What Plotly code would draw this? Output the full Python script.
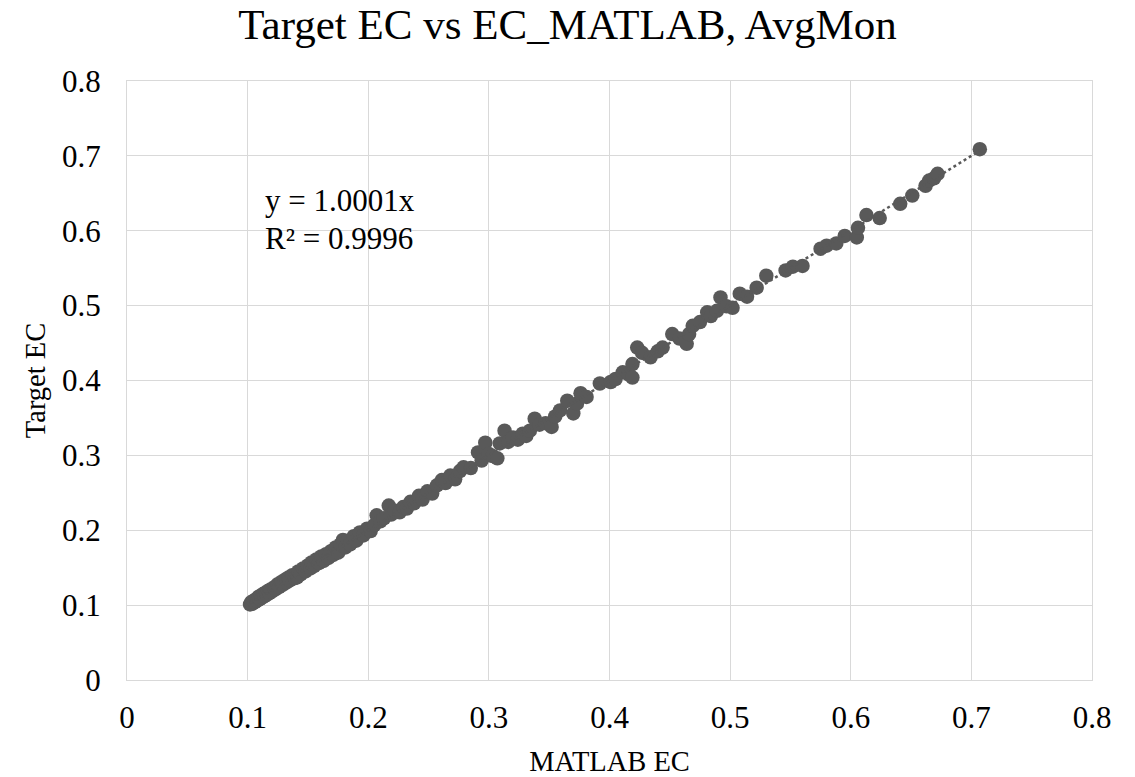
import plotly.graph_objects as go

# MATLAB EC (x) and Target EC (y) values
matlab_ec = [
    0.102, 0.103, 0.104, 0.105, 0.106, 0.107, 0.108, 0.109, 0.110, 0.111,
    0.112, 0.113, 0.114, 0.115, 0.116, 0.117, 0.118, 0.119, 0.120, 0.122,
    0.123, 0.125, 0.126, 0.128, 0.129, 0.131, 0.132, 0.134, 0.135, 0.137,
    0.139, 0.141, 0.142, 0.144, 0.146, 0.148, 0.150, 0.152, 0.153, 0.155,
    0.157, 0.159, 0.161, 0.163, 0.165, 0.167, 0.169, 0.171, 0.173, 0.175,
    0.177, 0.179, 0.181, 0.183, 0.185, 0.188, 0.190, 0.193, 0.196, 0.199,
    0.202, 0.205, 0.207, 0.210, 0.213, 0.217, 0.219, 0.222, 0.226, 0.229,
    0.232, 0.235, 0.238, 0.242, 0.245, 0.249, 0.253, 0.257, 0.261, 0.264,
    0.268, 0.272, 0.276, 0.279, 0.285, 0.291, 0.294, 0.297, 0.300, 0.303,
    0.307, 0.309, 0.313, 0.316, 0.320, 0.324, 0.328, 0.331, 0.334, 0.338,
    0.342, 0.347, 0.352, 0.355, 0.359, 0.365, 0.370, 0.373, 0.376, 0.381,
    0.392, 0.401, 0.405, 0.411, 0.416, 0.419, 0.419, 0.423, 0.427, 0.434,
    0.440, 0.444, 0.452, 0.458, 0.464, 0.466, 0.469, 0.475, 0.481, 0.484,
    0.492, 0.489, 0.497, 0.502, 0.508, 0.514, 0.522, 0.530, 0.546, 0.552,
    0.560, 0.575, 0.580, 0.588, 0.595, 0.605, 0.606, 0.613, 0.624, 0.641,
    0.651, 0.662, 0.665, 0.669, 0.672, 0.707,
]
target_ec = [
    0.101, 0.104, 0.102, 0.106, 0.104, 0.108, 0.106, 0.111, 0.108, 0.113,
    0.110, 0.115, 0.112, 0.117, 0.114, 0.119, 0.116, 0.121, 0.118, 0.124,
    0.121, 0.128, 0.124, 0.131, 0.127, 0.134, 0.130, 0.137, 0.133, 0.140,
    0.136, 0.137, 0.145, 0.141, 0.149, 0.145, 0.153, 0.149, 0.157, 0.152,
    0.161, 0.156, 0.165, 0.159, 0.168, 0.163, 0.172, 0.167, 0.177, 0.170,
    0.181, 0.187, 0.177, 0.186, 0.181, 0.192, 0.186, 0.197, 0.193, 0.202,
    0.199, 0.207, 0.220, 0.212, 0.216, 0.233, 0.221, 0.226, 0.224, 0.231,
    0.229, 0.238, 0.236, 0.246, 0.241, 0.252, 0.249, 0.260, 0.267, 0.263,
    0.273, 0.268, 0.279, 0.284, 0.283, 0.304, 0.293, 0.317, 0.302, 0.299,
    0.296, 0.316, 0.333, 0.318, 0.324, 0.321, 0.329, 0.326, 0.333, 0.349,
    0.341, 0.343, 0.338, 0.352, 0.360, 0.373, 0.356, 0.369, 0.383, 0.378,
    0.396, 0.398, 0.402, 0.411, 0.408, 0.422, 0.404, 0.444, 0.437, 0.431,
    0.439, 0.444, 0.462, 0.456, 0.449, 0.462, 0.473, 0.478, 0.491, 0.486,
    0.511, 0.493, 0.499, 0.497, 0.516, 0.512, 0.524, 0.540, 0.547, 0.552,
    0.553, 0.576, 0.580, 0.583, 0.593, 0.591, 0.604, 0.621, 0.617, 0.636,
    0.647, 0.660, 0.667, 0.670, 0.676, 0.709,
]

trend_slope = 1.0001
r_squared = 0.9996

tick_vals = [0, 0.1, 0.2, 0.3, 0.4, 0.5, 0.6, 0.7, 0.8]
tick_text = ["0", "0.1", "0.2", "0.3", "0.4", "0.5", "0.6", "0.7", "0.8"]

FONT = "Liberation Serif, Times New Roman, serif"
GRID = "#d9d9d9"
MARK = "#595959"

fig = go.Figure()
fig.add_trace(go.Scatter(
    x=matlab_ec, y=target_ec, mode="markers",
    marker=dict(color=MARK, size=14.5, line=dict(width=0)),
    showlegend=False, hoverinfo="x+y",
))
x_min, x_max = min(matlab_ec), max(matlab_ec)
fig.add_trace(go.Scatter(
    x=[x_min, x_max], y=[trend_slope * x_min, trend_slope * x_max],
    mode="lines", line=dict(color=MARK, width=2.5, dash="dot"),
    showlegend=False, hoverinfo="skip",
))

axis_common = dict(
    range=[0, 0.8], tickmode="array", tickvals=tick_vals, ticktext=tick_text,
    showgrid=True, gridcolor=GRID, gridwidth=1.3, zeroline=False,
    showline=True, linecolor=GRID, linewidth=1.3, mirror=True,
    ticks="", tickfont=dict(family=FONT, size=31, color="#000000"),
    fixedrange=True,
)

fig.update_layout(
    width=1135, height=777,
    margin=dict(l=127, r=43, t=81, b=97),
    paper_bgcolor="white", plot_bgcolor="white",
    font=dict(family=FONT, color="#000000"),
    title=dict(text="Target EC vs EC_MATLAB, AvgMon", x=0.5, xanchor="center",
               xref="container", y=1 - 24 / 777, yanchor="middle", yref="container",
               font=dict(family=FONT, size=43, color="#000000")),
    xaxis=dict(**axis_common, automargin=False, ticklabelstandoff=10,
               title=dict(text="MATLAB EC", font=dict(family=FONT, size=28.5), standoff=30)),
    yaxis=dict(**axis_common, automargin=True, ticklabelstandoff=19,
               title=dict(text="Target EC", font=dict(family=FONT, size=28.5), standoff=7)),
    annotations=[
        dict(text=f"y = {trend_slope:.4f}x", x=0.1127, y=0.640, xref="x", yref="y",
             xanchor="left", yanchor="middle", showarrow=False,
             font=dict(family=FONT, size=31, color="#000000")),
        dict(text=f"R² = {r_squared:.4f}", x=0.1127, y=0.589, xref="x", yref="y",
             xanchor="left", yanchor="middle", showarrow=False,
             font=dict(family=FONT, size=31, color="#000000")),
    ],
)

fig.write_html("out.html")
